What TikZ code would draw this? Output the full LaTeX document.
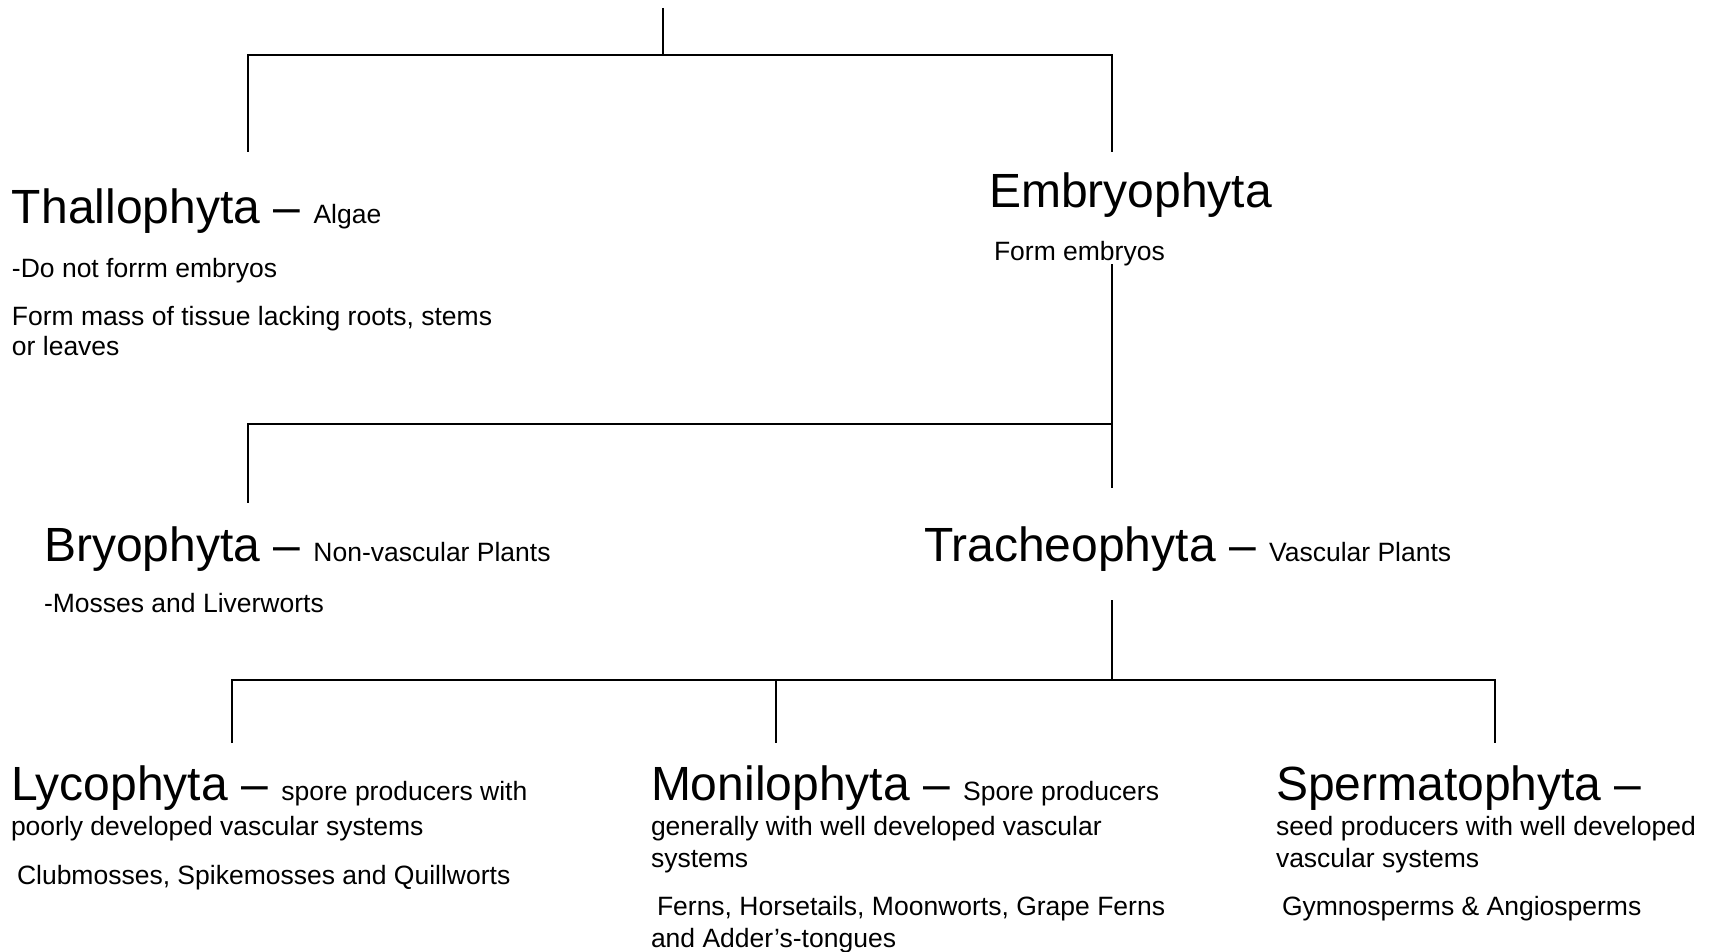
\documentclass[tikz,border=0pt]{standalone}
\usepackage{fontspec}
\setmainfont{Liberation Sans}
\newcommand\bigtxt[1]{{\fontsize{48}{57}\selectfont #1}}
\tikzset{
  lbl/.style={anchor=base west, inner sep=0pt, outer sep=0pt, font=\fontsize{26.5}{31}\selectfont},
  tree/.style={line width=1.6pt, draw=black},
}
\begin{document}
\begin{tikzpicture}[x=1pt, y=-1pt]
\useasboundingbox[fill=white] (0,0) rectangle (1711,952);
% junction coordinates
\coordinate (root) at (663,8);
\coordinate (rootJ) at (663,55);
\coordinate (jL1) at (248,55);
\coordinate (jR1) at (1112,55);
\coordinate (thalTop) at (248,152);
\coordinate (embTop) at (1112,152);
\coordinate (embStemA) at (1112,264);
\coordinate (embStemB) at (1112,488);
\coordinate (jR2) at (1112,424);
\coordinate (jL2) at (248,424);
\coordinate (bryTop) at (248,503);
\coordinate (traStem) at (1112,600);
\coordinate (jM3) at (1112,680);
\coordinate (jL3) at (232,680);
\coordinate (jC3) at (776,680);
\coordinate (jR3) at (1495,680);
\coordinate (lycTop) at (232,743);
\coordinate (monTop) at (776,743);
\coordinate (speTop) at (1495,743);

% texts
\node[lbl] (thal) at (12,224) {\bigtxt{Thallophyta – }Algae};
\node[lbl] (thal1) at (12,277) {-Do not forrm embryos};
\node[lbl] (thal2) at (12,325) {Form mass of tissue lacking roots, stems};
\node[lbl] (thal3) at (12,355) {or leaves};

\node[lbl] (emb) at (989,208) {\bigtxt{Embryophyta}};
\node[lbl] (emb1) at (994,261) {Form embryos};

\node[lbl] (bry) at (44,561) {\bigtxt{Bryophyta – }Non-vascular Plants};
\node[lbl] (bry1) at (44,612) {-Mosses and Liverworts};

\node[lbl] (tra) at (924,561) {\bigtxt{Tracheophyta – }Vascular Plants};

\node[lbl] (lyc) at (11,800) {\bigtxt{Lycophyta – }spore producers with};
\node[lbl] (lyc1) at (11,835) {poorly developed vascular systems};
\node[lbl] (lyc2) at (17,884) {Clubmosses, Spikemosses and Quillworts};

\node[lbl] (mon) at (651,800) {\bigtxt{Monilophyta – }Spore producers};
\node[lbl] (mon1) at (651,835) {generally with well developed vascular};
\node[lbl] (mon2) at (651,867) {systems};
\node[lbl] (mon3) at (657,915) {Ferns, Horsetails, Moonworts, Grape Ferns};
\node[lbl] (mon4) at (651,947) {and Adder’s-tongues};

\node[lbl] (spe) at (1276,800) {\bigtxt{Spermatophyta –}};
\node[lbl] (spe1) at (1276,835) {seed producers with well developed};
\node[lbl] (spe2) at (1276,867) {vascular systems};
\node[lbl] (spe3) at (1282,915) {Gymnosperms \& Angiosperms};

% connectors
\draw[tree] (root) -- (rootJ);
\draw[tree] (thalTop) -- (jL1) -- (jR1) -- (embTop);
\draw[tree] (embStemA) -- (embStemB);
\draw[tree] (jR2) -- (jL2) -- (bryTop);
\draw[tree] (traStem) -- (jM3);
\draw[tree] (lycTop) -- (jL3) -- (jR3) -- (speTop);
\draw[tree] (jC3) -- (monTop);
\end{tikzpicture}
\end{document}
